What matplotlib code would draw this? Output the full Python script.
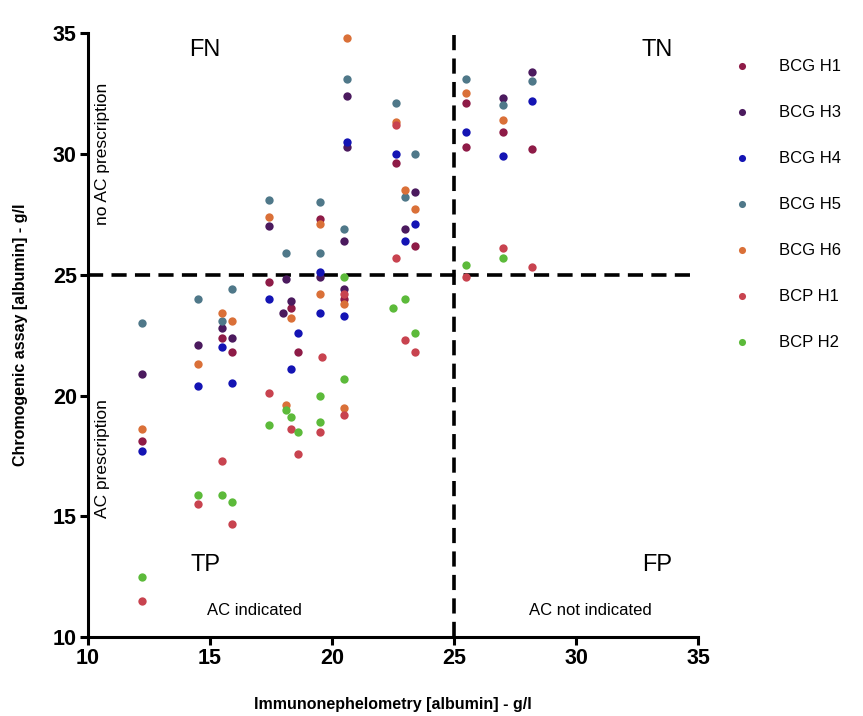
import matplotlib
matplotlib.use("Agg")
import matplotlib.pyplot as plt

plt.rcParams['font.family'] = ['Liberation Sans', 'DejaVu Sans']

# values (x = immunonephelometry, y = chromogenic)
bcg_h1_x = [17.4, 15.5, 15.9, 12.2, 19.5, 22.6, 23.4, 25.5, 25.5, 27.0, 28.2, 18.3, 18.6, 20.5]
bcg_h1_y = [24.7, 22.4, 21.8, 18.1, 27.3, 29.6, 26.2, 32.1, 30.3, 30.9, 30.2, 23.6, 21.8, 24.0]

bcg_h3_x = [17.4, 15.5, 15.9, 14.5, 12.2, 20.6, 20.6, 20.5, 23.4, 23.0, 27.0, 28.2, 18.1, 18.3, 18.0, 19.5, 20.5]
bcg_h3_y = [27.0, 22.8, 22.4, 22.1, 20.9, 32.4, 30.3, 26.4, 28.4, 26.9, 32.3, 33.4, 24.8, 23.9, 23.4, 24.9, 24.4]

bcg_h4_x = [17.4, 15.5, 14.5, 15.9, 12.2, 20.6, 22.6, 23.4, 23.0, 25.5, 27.0, 28.2, 18.6, 18.3, 19.5, 19.5, 20.5]
bcg_h4_y = [24.0, 22.0, 20.4, 20.5, 17.7, 30.5, 30.0, 27.1, 26.4, 30.9, 29.9, 32.2, 22.6, 21.1, 25.1, 23.4, 23.3]

bcg_h5_x = [17.4, 15.9, 14.5, 12.2, 15.5, 20.6, 22.6, 23.4, 19.5, 20.5, 18.1, 19.5, 23.0, 25.5, 27.0, 28.2]
bcg_h5_y = [28.1, 24.4, 24.0, 23.0, 23.1, 33.1, 32.1, 30.0, 28.0, 26.9, 25.9, 25.9, 28.2, 33.1, 32.0, 33.0]

bcg_h6_x = [17.4, 15.5, 15.9, 14.5, 12.2, 20.6, 22.6, 19.5, 23.0, 23.4, 25.5, 27.0, 18.3, 19.5, 20.5, 18.1, 20.5]
bcg_h6_y = [27.4, 23.4, 23.1, 21.3, 18.6, 34.8, 31.3, 27.1, 28.5, 27.7, 32.5, 31.4, 23.2, 24.2, 23.8, 19.6, 19.5]

bcp_h1_x = [17.4, 12.2, 14.5, 15.5, 15.9, 22.6, 22.6, 27.0, 28.2, 25.5, 19.6, 23.0, 23.4, 20.5, 20.5, 18.3, 19.5, 18.6]
bcp_h1_y = [20.1, 11.5, 15.5, 17.3, 14.7, 31.2, 25.7, 26.1, 25.3, 24.9, 21.6, 22.3, 21.8, 24.2, 19.2, 18.6, 18.5, 17.6]

bcp_h2_x = [17.4, 12.2, 14.5, 15.5, 15.9, 25.5, 27.0, 20.5, 22.5, 23.0, 23.4, 20.5, 19.5, 18.1, 18.3, 18.6, 19.5]
bcp_h2_y = [18.8, 12.5, 15.9, 15.9, 15.6, 25.4, 25.7, 24.9, 23.6, 24.0, 22.6, 20.7, 20.0, 19.4, 19.1, 18.5, 18.9]

series = [
    ("BCG H1", bcg_h1_x, bcg_h1_y, "#8e1b47"),
    ("BCG H3", bcg_h3_x, bcg_h3_y, "#4b1a5e"),
    ("BCG H4", bcg_h4_x, bcg_h4_y, "#1414b4"),
    ("BCG H5", bcg_h5_x, bcg_h5_y, "#4f7889"),
    ("BCG H6", bcg_h6_x, bcg_h6_y, "#da7038"),
    ("BCP H1", bcp_h1_x, bcp_h1_y, "#c8434f"),
    ("BCP H2", bcp_h2_x, bcp_h2_y, "#5cba3a"),
]

fig = plt.figure(figsize=(8.63, 7.16), dpi=100)
ax = fig.add_axes([0.102, 0.110, 0.707, 0.844])

for name, xs, ys, col in series:
    ax.scatter(xs, ys, s=36, color=col, linewidths=0, label=name, zorder=3)

# cut-off lines
ax.axvline(25, color='black', lw=2.6, dashes=(4.2, 2.3), zorder=2)
ax.axhline(25, color='black', lw=2.6, dashes=(4.2, 2.3), zorder=2)

ax.set_xlim(10, 35)
ax.set_ylim(10, 35)
ax.set_xticks([10, 15, 20, 25, 30, 35])
ax.set_yticks([10, 15, 20, 25, 30, 35])
for s in ['top', 'right']:
    ax.spines[s].set_visible(False)
for s in ['left', 'bottom']:
    ax.spines[s].set_linewidth(2.2)
ax.tick_params(width=2.2, length=6, labelsize=15.5, pad=2)
for lab in ax.get_xticklabels() + ax.get_yticklabels():
    lab.set_fontweight('bold')

ax.set_xlabel('Immunonephelometry [albumin] - g/l', fontsize=11.5, fontweight='bold', labelpad=20)
ax.set_ylabel('Chromogenic assay [albumin] - g/l', fontsize=11.5, fontweight='bold', labelpad=18)

# quadrant annotations
ax.text(14.8, 34.3, 'FN', fontsize=17, ha='center', va='center')
ax.text(33.3, 34.3, 'TN', fontsize=17, ha='center', va='center')
ax.text(14.8, 13.0, 'TP', fontsize=17, ha='center', va='center')
ax.text(33.3, 13.0, 'FP', fontsize=17, ha='center', va='center')
ax.text(16.8, 11.1, 'AC indicated', fontsize=12, ha='center', va='center')
ax.text(30.6, 11.1, 'AC not indicated', fontsize=12, ha='center', va='center')
ax.text(10.6, 30.0, 'no AC prescription', fontsize=12.5, rotation=90, ha='center', va='center')
ax.text(10.6, 17.4, 'AC prescription', fontsize=12.5, rotation=90, ha='center', va='center')

ax.legend(loc='upper left', bbox_to_anchor=(1.02, 0.982), frameon=False, fontsize=12,
          labelspacing=1.86, handletextpad=1.2, markerscale=0.85, scatterpoints=1)

fig.savefig('out.png', dpi=100)
